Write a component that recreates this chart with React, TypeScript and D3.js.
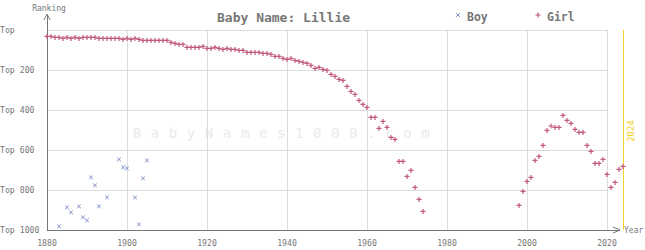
import React from "react";
import * as d3 from "d3";

const girlYears: number[] = d3.range(1880, 1975).concat(d3.range(1998, 2025));
const girlRanks: number[] = [
  32, 32, 37, 37, 42, 37, 42, 37, 42, 37, 37, 37, 37, 42, 42, 42, 42, 42, 42, 47,
  42, 47, 42, 47, 52, 52, 52, 52, 52, 52, 52, 62, 67, 72, 72, 87, 87, 87, 87, 82,
  92, 92, 87, 92, 97, 92, 97, 97, 102, 102, 112, 112, 112, 112, 117, 117, 122, 132, 132, 142,
  147, 142, 152, 157, 162, 167, 177, 192, 187, 197, 202, 222, 232, 247, 252, 282, 307, 322, 352, 372,
  387, 437, 437, 492, 457, 487, 537, 547, 657, 657, 732, 702, 787, 847, 907,
  877, 807, 757, 737, 652, 632, 577, 502, 480, 487, 487, 427, 452, 467, 497, 512, 512, 577, 607, 667,
  667, 647, 722, 787, 762, 697, 682,
];
const boyYears: number[] = [1883, 1885, 1886, 1888, 1889, 1890, 1891, 1892, 1893, 1895, 1898, 1899, 1900, 1902, 1903, 1904, 1905];
const boyRanks: number[] = [982, 887, 912, 882, 937, 952, 737, 777, 882, 837, 647, 687, 692, 837, 972, 742, 652];
const xTicks: number[] = [1880, 1900, 1920, 1940, 1960, 1980, 2000, 2020];
const yTicks: number[] = [0, 200, 400, 600, 800, 1000];
const yTickLabels: string[] = ["Top", "Top 200", "Top 400", "Top 600", "Top 800", "Top 1000"];
const title = "Baby Name: Lillie";
const currentYear = 2024;

const W = 645;
const H = 250;
const mono = "'DejaVu Sans Mono', monospace";
const girlColor = "#c0577f";
const boyColor = "#7d8ccc";
const axisColor = "#777";
const gridColor = "#dcdcdc";

export default function App() {
  const x = d3.scaleLinear().domain([1880, 2020]).range([47, 607]);
  const y = d3.scaleLinear().domain([0, 1000]).range([30, 230]);
  const plus = "M-2.5,0H2.5M0,-2.5V2.5";
  const cross = "M-1.8,-1.8L1.8,1.8M-1.8,1.8L1.8,-1.8";

  return (
    <svg width={W} height={H} style={{ position: "absolute", left: 0, top: 0, background: "#fff" }} fontFamily={mono}>
      {/* watermark */}
      <text x={286} y={138} textAnchor="middle" fontSize={14} fill="#eaeaea" letterSpacing={9.6} fontFamily={mono}>
        BabyNames1000.com
      </text>
      {/* grid */}
      {yTicks.slice(0, -1).map((t) => (
        <line key={"h" + t} x1={x(1880)} x2={x(2020)} y1={y(t)} y2={y(t)} stroke={gridColor} strokeWidth={1} shapeRendering="crispEdges" />
      ))}
      {xTicks.slice(1).map((t) => (
        <line key={"v" + t} x1={x(t)} x2={x(t)} y1={y(0)} y2={y(1000)} stroke={gridColor} strokeWidth={1} shapeRendering="crispEdges" />
      ))}
      {/* current year line */}
      <line x1={x(currentYear)} x2={x(currentYear)} y1={y(0)} y2={y(1000)} stroke="#f2d22a" strokeWidth={1} shapeRendering="crispEdges" />
      <text transform={`translate(${x(currentYear) + 11},${(y(0) + y(1000)) / 2 + 1}) rotate(-90)`} textAnchor="middle" fontSize={9} fill="#f0cf1e">
        {currentYear}
      </text>
      {/* axes */}
      <line x1={x(1880)} x2={x(1880)} y1={15} y2={y(1000)} stroke={axisColor} strokeWidth={1} shapeRendering="crispEdges" />
      <path d={`M${x(1880) - 3},20L${x(1880)},14L${x(1880) + 3},20`} fill="none" stroke={axisColor} strokeWidth={1} />
      <line x1={x(1880)} x2={620} y1={y(1000)} y2={y(1000)} stroke={axisColor} strokeWidth={1} shapeRendering="crispEdges" />
      <path d={`M613,${y(1000) - 3}L620,${y(1000)}L613,${y(1000) + 3}`} fill="none" stroke={axisColor} strokeWidth={1} />
      <text x={49} y={11} textAnchor="middle" fontSize={8} fill={axisColor}>Ranking</text>
      <text x={624} y={233} fontSize={8} fill={axisColor}>Year</text>
      {yTicks.map((t, i) => (
        <text key={"yl" + t} x={0} y={y(t) + 3} fontSize={8.2} fill={axisColor}>{yTickLabels[i]}</text>
      ))}
      {xTicks.map((t) => (
        <text key={"xl" + t} x={x(t)} y={246} textAnchor="middle" fontSize={8.2} fill={axisColor}>{t}</text>
      ))}
      {/* title & legend */}
      <text x={217} y={21.5} fontSize={13} fontWeight="bold" fill={axisColor}>{title}</text>
      <path d={cross} transform="translate(458,15)" stroke={boyColor} strokeWidth={1} fill="none" />
      <text x={467} y={21} fontSize={11.5} fontWeight="bold" fill={axisColor}>Boy</text>
      <path d={plus} transform="translate(538,15)" stroke={girlColor} strokeWidth={1.2} fill="none" />
      <text x={547} y={21} fontSize={11.5} fontWeight="bold" fill={axisColor}>Girl</text>
      {/* data */}
      {boyYears.map((yr, i) => (
        <path key={"b" + yr} d={cross} transform={`translate(${x(yr)},${y(boyRanks[i])})`} stroke={boyColor} strokeWidth={1} fill="none" />
      ))}
      {girlYears.map((yr, i) => (
        <path key={"g" + yr} d={plus} transform={`translate(${x(yr)},${y(girlRanks[i])})`} stroke={girlColor} strokeWidth={1.2} fill="none" />
      ))}
    </svg>
  );
}
